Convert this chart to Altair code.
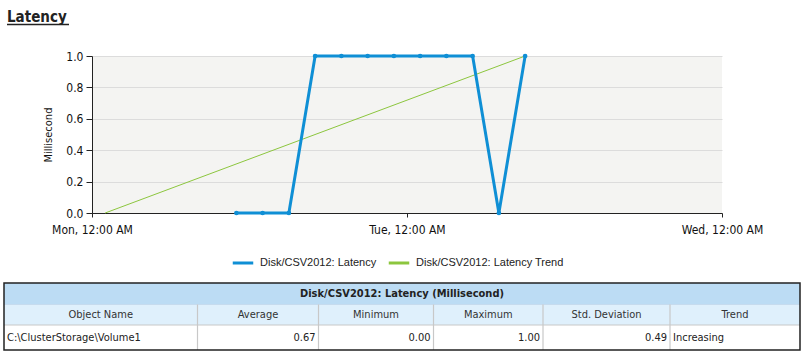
import altair as alt
import pandas as pd

# ---------------- data ----------------
series_names = ["Disk/CSV2012: Latency", "Disk/CSV2012: Latency Trend"]
latency_times = [
    "2013-01-07T11:00", "2013-01-07T13:00", "2013-01-07T15:00", "2013-01-07T17:00",
    "2013-01-07T19:00", "2013-01-07T21:00", "2013-01-07T23:00", "2013-01-08T01:00",
    "2013-01-08T03:00", "2013-01-08T05:00", "2013-01-08T07:00", "2013-01-08T09:00",
]
latency_values = [0, 0, 0, 1, 1, 1, 1, 1, 1, 1, 0, 1]
trend_times = ["2013-01-07T01:00", "2013-01-08T09:00"]
trend_values = [0.0, 1.0]
y_ticks = [0.0, 0.2, 0.4, 0.6, 0.8, 1.0]

chart_title = "Latency"
y_title = "Millisecond"
table_title = "Disk/CSV2012: Latency (Millisecond)"
col_headers = ["Object Name", "Average", "Minimum", "Maximum", "Std. Deviation", "Trend"]
row_values = ["C:\\ClusterStorage\\Volume1", "0.67", "0.00", "1.00", "0.49", "Increasing"]
row_align = ["left", "right", "right", "right", "right", "left"]

# ---------------- style / layout ----------------
BLUE = "#0f8fd5"
GREEN = "#8cc63e"
FONT = "Tahoma, 'DejaVu Sans Condensed', 'DejaVu Sans', sans-serif"
LEG_FONT = "'Liberation Sans', Arial, sans-serif"
CANVAS_W, CANVAS_H = 804, 355
PLOT_X, PLOT_Y = 92, 56
PLOT_W, PLOT_H = 630, 157
GAP = 70
TABLE_W, TABLE_H = 796, 67
TABLE_LEFT = -88          # table left edge relative to plot area
COL_EDGES = [0, 193.5, 314.5, 429.5, 539, 666, 796]
ROW_EDGES = [0, 21.5, 42, 67]

df = pd.DataFrame({
    "time": latency_times + trend_times,
    "value": latency_values + trend_values,
    "series": [series_names[0]] * len(latency_times) + [series_names[1]] * len(trend_times),
})

x_enc = alt.X(
    "time:T",
    scale=alt.Scale(domain=[alt.DateTime(year=2013, month=1, date=7, hours=0),
                            alt.DateTime(year=2013, month=1, date=9, hours=0)]),
    axis=alt.Axis(
        title=None, grid=False, format="%a, %I:%M %p",
        values=[alt.DateTime(year=2013, month=1, date=d, hours=0) for d in (7, 8, 9)],
        labelFont=FONT, labelFontSize=12, labelColor="#111", labelPadding=7,
        tickSize=4, tickColor="#222", domainColor="#222", labelFlush=False,
    ),
)
y_enc = alt.Y(
    "value:Q",
    scale=alt.Scale(domain=[0, 1]),
    axis=alt.Axis(
        title=y_title, values=y_ticks, format=".1f",
        labelFont=FONT, labelFontSize=12, labelColor="#111", labelPadding=3,
        tickSize=6, tickColor="#222", domainColor="#222",
        gridColor="#dcdcdc", titleFont=FONT, titleFontSize=11,
        titleFontWeight="normal", titleColor="#111", titlePadding=12,
    ),
)
color_enc = alt.Color(
    "series:N",
    scale=alt.Scale(domain=series_names, range=[BLUE, GREEN]),
    legend=alt.Legend(
        title=None, orient="none", legendX=139, legendY=195, direction="horizontal",
        symbolType="stroke", symbolStrokeWidth=3, symbolSize=420,
        labelFont=LEG_FONT, labelFontSize=11, labelColor="#222",
        columnPadding=5, labelOffset=5, padding=0,
    ),
)

base = alt.Chart(df).encode(x=x_enc, y=y_enc, color=color_enc)
trend_line = base.transform_filter(alt.datum.series == series_names[1]).mark_line(strokeWidth=1)
lat_line = base.transform_filter(alt.datum.series == series_names[0]).mark_line(strokeWidth=3)
lat_points = alt.Chart(df).transform_filter(alt.datum.series == series_names[0]).mark_point(
    filled=True, size=22, opacity=1, color=BLUE
).encode(x=x_enc, y=y_enc)

title_df = pd.DataFrame({"t": [chart_title]})
title_text = alt.Chart(title_df).mark_text(
    font=FONT, fontSize=15, fontWeight="bold", color="#222", align="left", baseline="alphabetic"
).encode(text="t:N", x=alt.value(-85), y=alt.value(-34))
title_rule = alt.Chart(title_df).mark_rule(color="#222", strokeWidth=1.5).encode(
    x=alt.value(-85), x2=alt.value(-23), y=alt.value(-31.5)
)
# invisible frame that fixes the overall canvas bounds
frame = alt.Chart(title_df).mark_rect(fill="white", opacity=0, strokeWidth=0).encode(
    x=alt.value(-PLOT_X), x2=alt.value(CANVAS_W - PLOT_X),
    y=alt.value(-PLOT_Y), y2=alt.value(CANVAS_H - PLOT_Y),
)

line_chart = alt.layer(frame, trend_line, lat_line, lat_points, title_text, title_rule).properties(
    width=PLOT_W, height=PLOT_H,
    view=alt.ViewBackground(fill="#f4f4f2", strokeWidth=0),
)

# ---------------- table ----------------
tx = alt.Scale(domain=[0, TABLE_W], range=[TABLE_LEFT, TABLE_LEFT + TABLE_W])
ty = alt.Scale(domain=[0, TABLE_H], range=[0, TABLE_H])

fills = pd.DataFrame({
    "x": [0, 0, 0], "x2": [TABLE_W] * 3,
    "y": ROW_EDGES[:3], "y2": ROW_EDGES[1:],
    "fill": ["#bcdcf4", "#dff0fc", "#ffffff"],
})
fill_layer = alt.Chart(fills).mark_rect().encode(
    x=alt.X("x:Q", scale=tx, axis=None), x2="x2", y=alt.Y("y:Q", scale=ty, axis=None), y2="y2",
    color=alt.Color("fill:N", scale=None),
)

lines = pd.DataFrame({
    "x": [0, 0] + COL_EDGES[1:-1],
    "x2": [TABLE_W, TABLE_W] + COL_EDGES[1:-1],
    "y": [ROW_EDGES[1], ROW_EDGES[2]] + [ROW_EDGES[1]] * 5,
    "y2": [ROW_EDGES[1], ROW_EDGES[2]] + [ROW_EDGES[3]] * 5,
    "c": ["#c6dbee", "#c8c8c8"] + ["#c8c8c8"] * 5,
})
line_layer = alt.Chart(lines).mark_rule(strokeWidth=1.2).encode(
    x=alt.X("x:Q", scale=tx, axis=None), x2="x2", y=alt.Y("y:Q", scale=ty, axis=None), y2="y2",
    color=alt.Color("c:N", scale=None),
)

border = alt.Chart(pd.DataFrame({"x": [0], "x2": [TABLE_W], "y": [0], "y2": [TABLE_H]})).mark_rect(
    fill="transparent", stroke="#222", strokeWidth=1.5
).encode(x=alt.X("x:Q", scale=tx, axis=None), x2="x2", y=alt.Y("y:Q", scale=ty, axis=None), y2="y2")

head_df = pd.DataFrame({"t": [table_title], "x": [TABLE_W / 2], "y": [(ROW_EDGES[0] + ROW_EDGES[1]) / 2]})
head_layer = alt.Chart(head_df).mark_text(
    font=FONT, fontSize=11, fontWeight="bold", color="#222", align="center", baseline="middle"
).encode(x=alt.X("x:Q", scale=tx, axis=None), y=alt.Y("y:Q", scale=ty, axis=None), text="t:N")

colh_df = pd.DataFrame({
    "t": col_headers,
    "x": [(COL_EDGES[i] + COL_EDGES[i + 1]) / 2 for i in range(6)],
    "y": [(ROW_EDGES[1] + ROW_EDGES[2]) / 2] * 6,
})
colh_layer = alt.Chart(colh_df).mark_text(
    font=FONT, fontSize=11, color="#333", align="center", baseline="middle"
).encode(x=alt.X("x:Q", scale=tx, axis=None), y=alt.Y("y:Q", scale=ty, axis=None), text="t:N")

cell_df = pd.DataFrame({
    "t": row_values,
    "x": [COL_EDGES[i] + 3 if row_align[i] == "left" else COL_EDGES[i + 1] - 3 for i in range(6)],
    "y": [(ROW_EDGES[2] + ROW_EDGES[3]) / 2] * 6,
    "a": row_align,
})
cell_left = alt.Chart(cell_df).transform_filter(alt.datum.a == "left").mark_text(
    font=FONT, fontSize=11, color="#222", align="left", baseline="middle"
).encode(x=alt.X("x:Q", scale=tx, axis=None), y=alt.Y("y:Q", scale=ty, axis=None), text="t:N")
cell_right = alt.Chart(cell_df).transform_filter(alt.datum.a == "right").mark_text(
    font=FONT, fontSize=11, color="#222", align="right", baseline="middle"
).encode(x=alt.X("x:Q", scale=tx, axis=None), y=alt.Y("y:Q", scale=ty, axis=None), text="t:N")

table_chart = alt.layer(fill_layer, line_layer, border, head_layer, colh_layer, cell_left, cell_right).properties(
    width=PLOT_W, height=TABLE_H,
    view=alt.ViewBackground(fill="transparent", strokeWidth=0),
)

chart = alt.vconcat(line_chart, table_chart, spacing=GAP, bounds="flush").resolve_scale(
    x="independent", y="independent", color="independent"
).resolve_legend(color="independent").properties(
    autosize=alt.AutoSizeParams(type="pad"),
    padding=0,
    background="white",
)

chart.save("out.html", embed_options={"renderer": "svg", "actions": False})
